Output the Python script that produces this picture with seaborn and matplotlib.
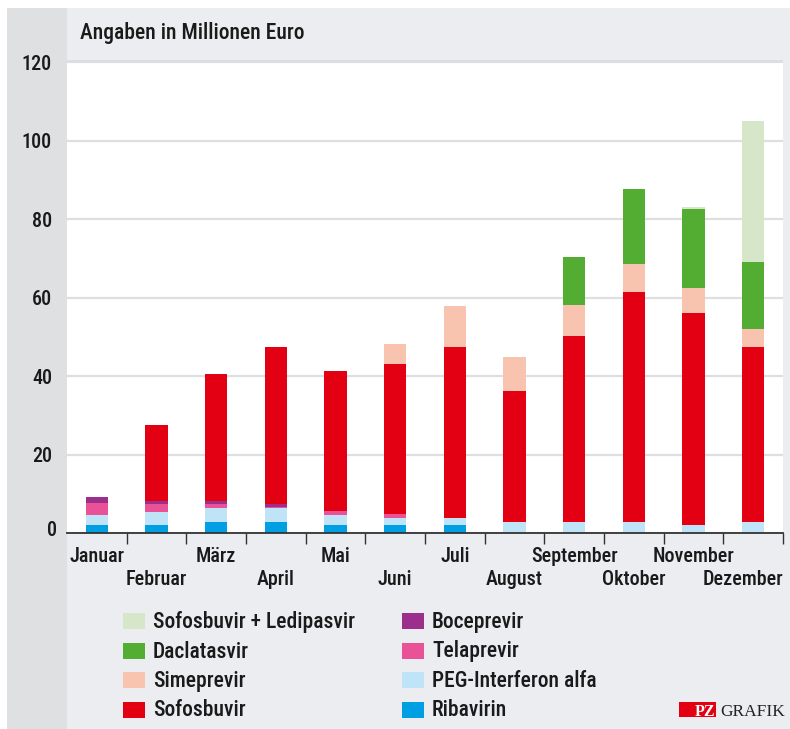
import numpy as np
import pandas as pd
import matplotlib
matplotlib.use("Agg")
import matplotlib.pyplot as plt
from matplotlib import font_manager
from matplotlib.patches import Rectangle
from matplotlib.transforms import ScaledTranslation
import seaborn as sns

# ---------------- data (Mio. Euro) ----------------
months = ["Januar", "Februar", "März", "April", "Mai", "Juni",
          "Juli", "August", "September", "Oktober", "November", "Dezember"]
ribavirin = [2.0, 1.95, 2.8, 2.8, 1.95, 1.95, 1.95, 0, 0, 0, 0, 0]
peg_interferon = [2.6, 3.45, 3.6, 3.65, 2.7, 1.85, 1.85, 2.8, 2.8, 2.9, 2.0, 2.9]
telaprevir = [3.0, 1.9, 1.0, 0.2, 0.95, 0.95, 0, 0, 0, 0, 0, 0]
boceprevir = [1.5, 0.8, 0.7, 0.75, 0, 0, 0, 0, 0, 0, 0, 0]
sofosbuvir = [0, 19.4, 32.5, 40.1, 35.8, 38.35, 43.7, 33.4, 47.5, 58.5, 54.05, 44.5]
simeprevir = [0, 0, 0, 0, 0, 5.1, 10.4, 8.6, 7.8, 7.2, 6.3, 4.5]
daclatasvir = [0, 0, 0, 0, 0, 0, 0, 0, 12.2, 19.0, 20.1, 17.2]
sofos_ledipasvir = [0, 0, 0, 0, 0, 0, 0, 0, 0, 0, 0.6, 35.9]

y_ticks = [0, 20, 40, 60, 80, 100, 120]
title = "Angaben in Millionen Euro"

series_names = ["Ribavirin", "PEG-Interferon alfa", "Telaprevir", "Boceprevir",
                "Sofosbuvir", "Simeprevir", "Daclatasvir", "Sofosbuvir + Ledipasvir"]
series_vals = [ribavirin, peg_interferon, telaprevir, boceprevir,
               sofosbuvir, simeprevir, daclatasvir, sofos_ledipasvir]
colors = ["#009fe3", "#bfe4f8", "#ea5297", "#9b2f8b",
          "#e30013", "#f8c4b0", "#53ad33", "#d6e7c9"]

# ---------------- fonts ----------------
installed = {f.name for f in font_manager.fontManager.ttflist}
sans = next((f for f in ["Liberation Sans Narrow", "Roboto Condensed", "Roboto",
                         "Liberation Sans", "DejaVu Sans"] if f in installed), "DejaVu Sans")
serif = next((f for f in ["Liberation Serif", "DejaVu Serif"] if f in installed), "DejaVu Serif")

sns.set_theme(style="white")
plt.rcParams["font.family"] = [sans, "DejaVu Sans"]
plt.rcParams["font.weight"] = "medium"
plt.rcParams["text.color"] = "#1a1a1a"

W, H = 790, 729
fig = plt.figure(figsize=(W / 100, H / 100), dpi=100, facecolor="white")


def px_rect(x0, y0, x1, y1, color, z=0):
    fig.add_artist(Rectangle((x0 / W, 1 - y1 / H), (x1 - x0) / W, (y1 - y0) / H,
                             transform=fig.transFigure, facecolor=color,
                             edgecolor="none", zorder=z))


LIGHT = "#ecedf0"
DARK = "#dfe0e2"
# background panels
px_rect(7, 8, 67, H, DARK)
px_rect(67, 8, W, 60, LIGHT)
px_rect(67, 59.5, 784, 62, "#dcdde0")
px_rect(783, 60, W, H, LIGHT)
px_rect(67, 533, 783, H, LIGHT)

ax_l, ax_r, ax_t, ax_b = 67, 783, 62, 533
ax = fig.add_axes([ax_l / W, 1 - ax_b / H, (ax_r - ax_l) / W, (ax_b - ax_t) / H])
ax.set_facecolor("white")

# ---------------- stacked bars (cumulative overdraw) ----------------
cum = np.cumsum(np.array(series_vals, dtype=float), axis=0)
for k in range(len(series_names) - 1, -1, -1):
    df = pd.DataFrame({"Monat": months, "Wert": cum[k]})
    sns.barplot(data=df, x="Monat", y="Wert", order=months, color=colors[k],
                saturation=1, width=0.37, errorbar=None, linewidth=0,
                edgecolor="none", ax=ax, zorder=3)

ax.set_xlim(-0.5, 11.5)
ax.set_ylim(0, 120)
ax.set_xlabel("")
ax.set_ylabel("")
for s in ["top", "right", "left"]:
    ax.spines[s].set_visible(False)
ax.spines["bottom"].set_color("#333333")
ax.spines["bottom"].set_linewidth(1.3)
ax.spines["bottom"].set_zorder(5)

ax.set_yticks(y_ticks)
ax.set_yticklabels([str(v) for v in y_ticks])
ax.tick_params(axis="y", length=0, pad=10.8, labelsize=14.5, labelcolor="#1a1a1a")
ax.yaxis.grid(True, color="#dedfe1", linewidth=1.6)
ax.set_axisbelow(True)
zero_lbl = ax.get_yticklabels()[0]
zero_lbl.set_transform(zero_lbl.get_transform() + ScaledTranslation(5 / 100, 4 / 100, fig.dpi_scale_trans))

ax.set_xticks([i + 0.5 for i in range(len(months))])
ax.set_xticklabels([""] * len(months))
ax.tick_params(axis="x", direction="out", length=8, width=1.0, color="#333333", bottom=True)

# month labels, alternating rows
for i, m in enumerate(months):
    yoff = -(562 - 533) / (ax_b - ax_t) if i % 2 == 0 else -(585 - 533) / (ax_b - ax_t)
    if i == len(months) - 1:
        xpos, ha = i + 0.5, "right"
    else:
        xpos, ha = i, "center"
    ax.text(xpos, yoff, m, transform=ax.get_xaxis_transform(), ha=ha, va="baseline",
            fontsize=14.5, color="#1a1a1a", clip_on=False)

# title
fig.text(80 / W, 1 - 39.5 / H, title, ha="left", va="baseline", fontsize=15.5, color="#1a1a1a")

# legend (manual layout)
col1 = ["Sofosbuvir + Ledipasvir", "Daclatasvir", "Simeprevir", "Sofosbuvir"]
col2 = ["Boceprevir", "Telaprevir", "PEG-Interferon alfa", "Ribavirin"]
row_c = [621, 650.5, 680, 709.5]
for xs, names in [(123, col1), (402, col2)]:
    for yc, name in zip(row_c, names):
        c = colors[series_names.index(name)]
        px_rect(xs, yc - 8, xs + 22, yc + 8, c, z=2)
        fig.text((xs + 30) / W, 1 - (yc + 7) / H, name, ha="left", va="baseline",
                 fontsize=15.5, color="#1a1a1a")

# PZ GRAFIK logo
px_rect(679, 702, 716, 717, "#e30013", z=2)
fig.text(715 / W, 1 - 715.5 / H, "PZ", ha="right", va="baseline", fontsize=11.5,
         color="white", family=serif, weight="bold")
fig.text(720 / W, 1 - 715.5 / H, "GRAFIK", ha="left", va="baseline", fontsize=12.5,
         color="#222222", family=serif)

fig.savefig("out.png", dpi=100, facecolor="white")
